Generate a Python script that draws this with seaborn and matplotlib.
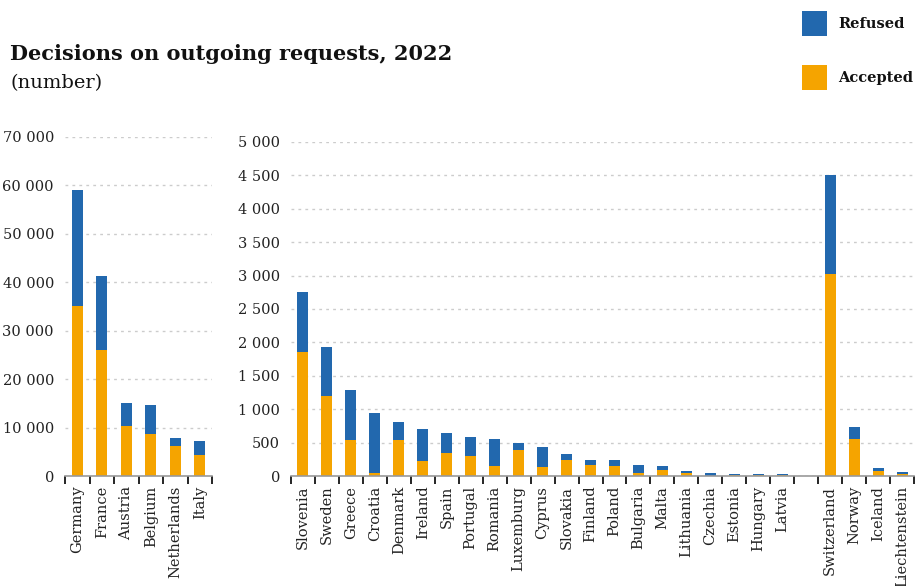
import matplotlib
matplotlib.use("Agg")
import matplotlib.pyplot as plt
import seaborn as sns
import pandas as pd
import numpy as np
from matplotlib.patches import Rectangle
from matplotlib.ticker import FuncFormatter, FixedLocator, MultipleLocator

# ---- data ----
big_countries = ["Germany", "France", "Austria", "Belgium", "Netherlands", "Italy"]
big_accepted = [35100, 25980, 10230, 8570, 6220, 4420]
big_refused = [23980, 15270, 4900, 6150, 1660, 2840]

small_countries = ["Slovenia", "Sweden", "Greece", "Croatia", "Denmark", "Ireland", "Spain",
                   "Portugal", "Romania", "Luxemburg", "Cyprus", "Slovakia", "Finland", "Poland",
                   "Bulgaria", "Malta", "Lithuania", "Czechia", "Estonia", "Hungary", "Latvia",
                   "", "Switzerland", "Norway", "Iceland", "Liechtenstein"]
small_accepted = [1850, 1200, 540, 50, 540, 225, 345, 300, 150, 390, 135, 240, 162, 146,
                  40, 86, 40, 3, 15, 17, 18, 0, 3030, 555, 71, 25]
small_refused = [900, 737, 751, 896, 271, 481, 301, 286, 406, 105, 300, 90, 75, 91,
                 122, 60, 31, 37, 10, 8, 7, 0, 1470, 182, 45, 31]

title = "Decisions on outgoing requests, 2022"
subtitle = "(number)"
series_names = ["Refused", "Accepted"]

BLUE = "#2268AE"
ORANGE = "#F5A400"

sns.set_theme(style="white")
plt.rcParams['font.family'] = ['DejaVu Serif']

W, H = 915, 586
fig = plt.figure(figsize=(W / 100, H / 100), dpi=100)


def px_axes(x0, x1, ybot, ytop):
    return fig.add_axes([x0 / W, 1 - ybot / H, (x1 - x0) / W, (ybot - ytop) / H])


def thousands(v, pos):
    return f"{int(round(v)):,}".replace(",", " ")


def draw(ax, cats, acc, ref, ymax, ystep):
    df = pd.DataFrame({"country": cats, "accepted": acc, "refused": ref})
    df["total"] = df["accepted"] + df["refused"]
    sns.barplot(data=df, x="country", y="total", order=cats, color=BLUE,
                width=0.46, saturation=1, ax=ax, errorbar=None, linewidth=0)
    sns.barplot(data=df, x="country", y="accepted", order=cats, color=ORANGE,
                width=0.46, saturation=1, ax=ax, errorbar=None, linewidth=0)
    n = len(cats)
    ax.set_xlim(-0.5, n - 0.5)
    ax.set_ylim(0, ymax)
    ax.yaxis.set_major_locator(MultipleLocator(ystep))
    ax.yaxis.set_major_formatter(FuncFormatter(thousands))
    ax.set_xlabel("")
    ax.set_ylabel("")
    ax.set_xticks(range(n))
    ax.set_xticklabels(cats, rotation=90, fontsize=10.5, color="#222222")
    ax.xaxis.set_minor_locator(FixedLocator(np.arange(-0.5, n, 1.0)))
    ax.tick_params(axis="x", which="major", length=0, pad=7, bottom=False)
    ax.tick_params(axis="x", which="minor", length=6, width=1.2, color="black",
                   bottom=True, direction="out")
    ax.tick_params(axis="y", length=0, pad=8, labelsize=10.5, labelcolor="#222222")
    for s in ["top", "right", "left"]:
        ax.spines[s].set_visible(False)
    ax.spines["bottom"].set_color("#999999")
    ax.spines["bottom"].set_linewidth(1.2)
    ax.yaxis.grid(True, linestyle=(0, (2, 3)), color="#cccccc", linewidth=1)
    ax.set_axisbelow(True)
    ax.patch.set_alpha(0)


ax1 = px_axes(65, 212, 476, 137)
draw(ax1, big_countries, big_accepted, big_refused, 70000, 10000)

ax2 = px_axes(291, 914, 476, 142)
draw(ax2, small_countries, small_accepted, small_refused, 5000, 500)

fig.text(10 / W, 1 - 60 / H, title, fontsize=15, fontweight="bold", color="#111111",
         ha="left", va="baseline")
fig.text(10 / W, 1 - 88 / H, subtitle, fontsize=14, color="#111111",
         ha="left", va="baseline")

for i, (name, col) in enumerate(zip(series_names, [BLUE, ORANGE])):
    ytop = 11 + i * 54
    fig.add_artist(Rectangle((802 / W, 1 - (ytop + 25) / H), 25 / W, 25 / H,
                             transform=fig.transFigure, color=col, lw=0))
    fig.text(838 / W, 1 - (ytop + 13) / H, name, fontsize=10.5, fontweight="bold",
             color="#111111", ha="left", va="center")

fig.savefig("out.png", dpi=100)
